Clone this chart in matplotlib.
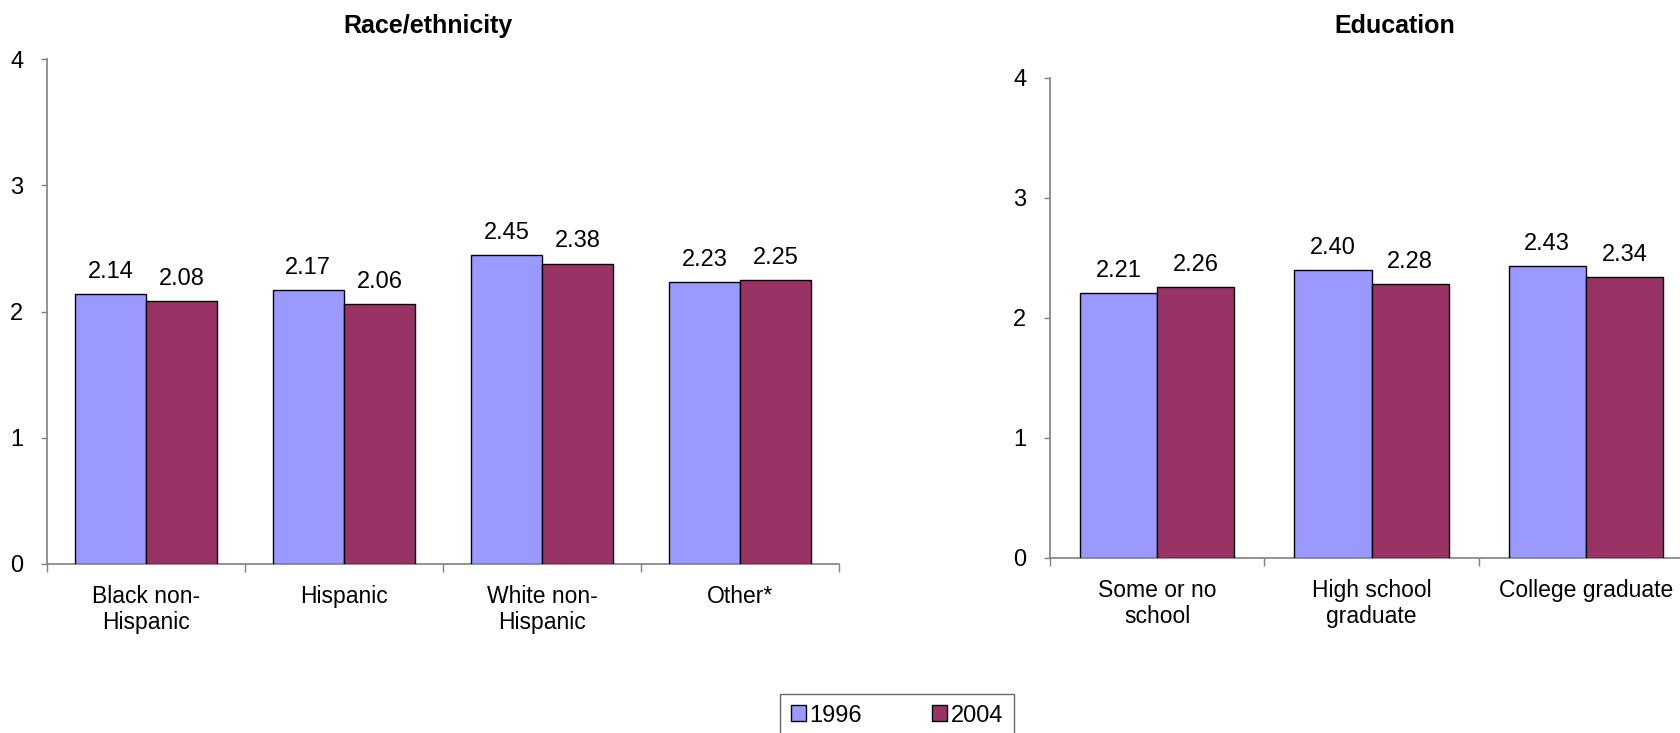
import matplotlib
matplotlib.use("Agg")
import matplotlib.pyplot as plt
import numpy as np

plt.rcParams['font.family'] = ['Liberation Sans', 'DejaVu Sans']

race_categories = ["Black non-\nHispanic", "Hispanic", "White non-\nHispanic", "Other*"]
race_1996 = [2.14, 2.17, 2.45, 2.23]
race_2004 = [2.08, 2.06, 2.38, 2.25]

edu_categories = ["Some or no\nschool", "High school\ngraduate", "College graduate"]
edu_1996 = [2.21, 2.40, 2.43]
edu_2004 = [2.26, 2.28, 2.34]

series_labels = ["1996", "2004"]
yticks = [0, 1, 2, 3, 4]

C1996 = "#9999FF"
C2004 = "#993366"
AXC = "#808080"

W, H = 1680, 733
fig = plt.figure(figsize=(W / 100, H / 100), dpi=100)

def px_axes(x0, x1, ytop, ybot):
    return [x0 / W, 1 - ybot / H, (x1 - x0) / W, (ybot - ytop) / H]

ax1 = fig.add_axes(px_axes(47, 839, 59, 564))
ax2 = fig.add_axes(px_axes(1050, 1693, 78, 558))

def draw(ax, cats, v1, v2):
    n = len(cats)
    x = np.arange(n)
    w = 0.36
    b1 = ax.bar(x - w / 2, v1, w, color=C1996, edgecolor="black", linewidth=1.0, label=series_labels[0], zorder=3)
    b2 = ax.bar(x + w / 2, v2, w, color=C2004, edgecolor="black", linewidth=1.0, label=series_labels[1], zorder=3)
    for bars, vals in ((b1, v1), (b2, v2)):
        for r, v in zip(bars, vals):
            ax.annotate(f"{v:.2f}", (r.get_x() + r.get_width() / 2, v), xytext=(0, 8),
                        textcoords="offset points", ha="center", va="bottom", fontsize=17)
    ax.set_xlim(-0.5, n - 0.5)
    ax.set_ylim(0, 4)
    ax.set_yticks(yticks)
    ax.set_yticklabels([str(t) for t in yticks], fontsize=17)
    ax.set_xticks(x)
    ax.set_xticklabels(cats, fontsize=16.5, linespacing=1.2)
    ax.set_xticks(np.arange(n + 1) - 0.5, minor=True)
    ax.tick_params(axis="x", which="major", length=0, pad=15)
    ax.tick_params(axis="x", which="minor", length=6, color=AXC, width=1)
    ax.tick_params(axis="y", length=4, color=AXC, width=1, pad=13)
    for s in ("top", "right"):
        ax.spines[s].set_visible(False)
    for s in ("left", "bottom"):
        ax.spines[s].set_color(AXC)
        ax.spines[s].set_linewidth(1.2)
    return b1, b2

h1, h2 = draw(ax1, race_categories, race_1996, race_2004)
draw(ax2, edu_categories, edu_1996, edu_2004)

fig.text(428 / W, 1 - 26 / H, "Race/ethnicity", ha="center", va="center", fontsize=18, fontweight="bold")
fig.text(1395 / W, 1 - 26 / H, "Education", ha="center", va="center", fontsize=18, fontweight="bold")

leg = fig.legend([h1, h2], series_labels, loc="upper center", bbox_to_anchor=(897 / W, 1 - 694 / H),
                 ncol=2, fontsize=17, frameon=True, fancybox=False, shadow=False,
                 handlelength=0.65, handleheight=0.65, handletextpad=0.15, columnspacing=2.95,
                 borderpad=0.45, borderaxespad=0)
leg.get_frame().set_edgecolor("#404040")
leg.get_frame().set_linewidth(1.0)

fig.savefig("out.png", dpi=100)
